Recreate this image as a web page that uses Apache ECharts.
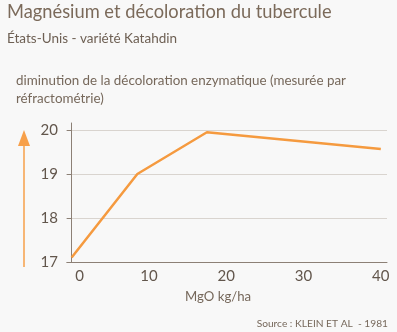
<!DOCTYPE html>
<html><head><meta charset="utf-8">
<script src="https://cdn.jsdelivr.net/npm/echarts@6/dist/echarts.min.js"></script>
<style>html,body{margin:0;padding:0;background:#f8f8f8}#c{width:397px;height:332px}</style>
</head><body><div id="c"></div>
<script>
const mgo = [0, 8.5, 17.5, 40];
const decoloration = [17.1, 19.0, 19.95, 19.57];
const xTicks = [0, 10, 20, 30, 40];
const yTicks = [17, 18, 19, 20];
const titleText = 'Magnésium et décoloration du tubercule';
const subtitleText = 'États-Unis - variété Katahdin';
const yCaption = 'diminution de la décoloration enzymatique (mesurée par\nréfractométrie)';
const xCaption = 'MgO kg/ha';
const sourceText = 'Source : KLEIN ET AL  - 1981';

const FONT = 'Lato';
const TXT = '#76685b';
const chart = echarts.init(document.getElementById('c'), null, {renderer: 'canvas'});
chart.setOption({
  backgroundColor: '#f8f8f8',
  animation: false,
  title: [
    {text: titleText, left: 7, top: 3, padding: 0, textStyle: {fontFamily: FONT, fontSize: 18.3, fontWeight: 'normal', color: '#7b6a5a'}},
    {text: subtitleText, left: 7, top: 32, padding: 0, textStyle: {fontFamily: FONT, fontSize: 13.5, fontWeight: 'normal', color: '#6e6054'}},
    {text: yCaption, left: 16, top: 72, padding: 0, textStyle: {fontFamily: FONT, fontSize: 13.4, fontWeight: 'normal', color: TXT, lineHeight: 18}},
    {text: xCaption, left: 185, top: 290, padding: 0, textStyle: {fontFamily: FONT, fontSize: 13.2, fontWeight: 'normal', color: TXT}},
    {text: sourceText, right: 9, top: 319, padding: 0, textStyle: {fontFamily: FONT, fontSize: 10.2, fontWeight: 'normal', color: TXT}}
  ],
  grid: {left: 67, right: 10, top: 123, bottom: 70},
  xAxis: {
    type: 'value', min: -0.6, max: 40.8,
    axisLine: {lineStyle: {color: '#8c8076', width: 1}},
    axisTick: {show: false},
    splitLine: {show: false},
    axisLabel: {
      customValues: xTicks, margin: 7,
      fontFamily: FONT, fontSize: 15, color: '#62564c',
      formatter: v => v === 0 ? '{z|0}' : String(v),
      rich: {z: {padding: [0, 0, 0, 16], fontFamily: FONT, fontSize: 15, color: '#62564c'}}
    }
  },
  yAxis: {
    type: 'value', min: 17, max: 20.16, interval: 1,
    axisLine: {show: true, lineStyle: {color: '#8c8076', width: 1}},
    axisTick: {show: true, length: 5, customValues: yTicks, lineStyle: {color: '#8c8076'}},
    splitLine: {show: true, lineStyle: {color: ['#d9d4cf', '#d9d4cf', '#d9d4cf', '#d9d4cf', 'rgba(0,0,0,0)'], width: 1.2}},
    axisLabel: {customValues: yTicks, margin: 9, fontFamily: FONT, fontSize: 15, color: '#62564c'}
  },
  graphic: [
    {type: 'line', shape: {x1: 24, y1: 142, x2: 24, y2: 267}, style: {stroke: '#f7a04a', lineWidth: 1.5}},
    {type: 'polygon', shape: {points: [[24, 130], [18, 146], [30, 146]]}, style: {fill: '#f7a04a'}}
  ],
  series: [{
    type: 'line',
    data: mgo.map((x, i) => [x, decoloration[i]]),
    symbol: 'none',
    lineStyle: {color: '#f59a3f', width: 2.5},
    silent: true
  }]
});
</script></body></html>
